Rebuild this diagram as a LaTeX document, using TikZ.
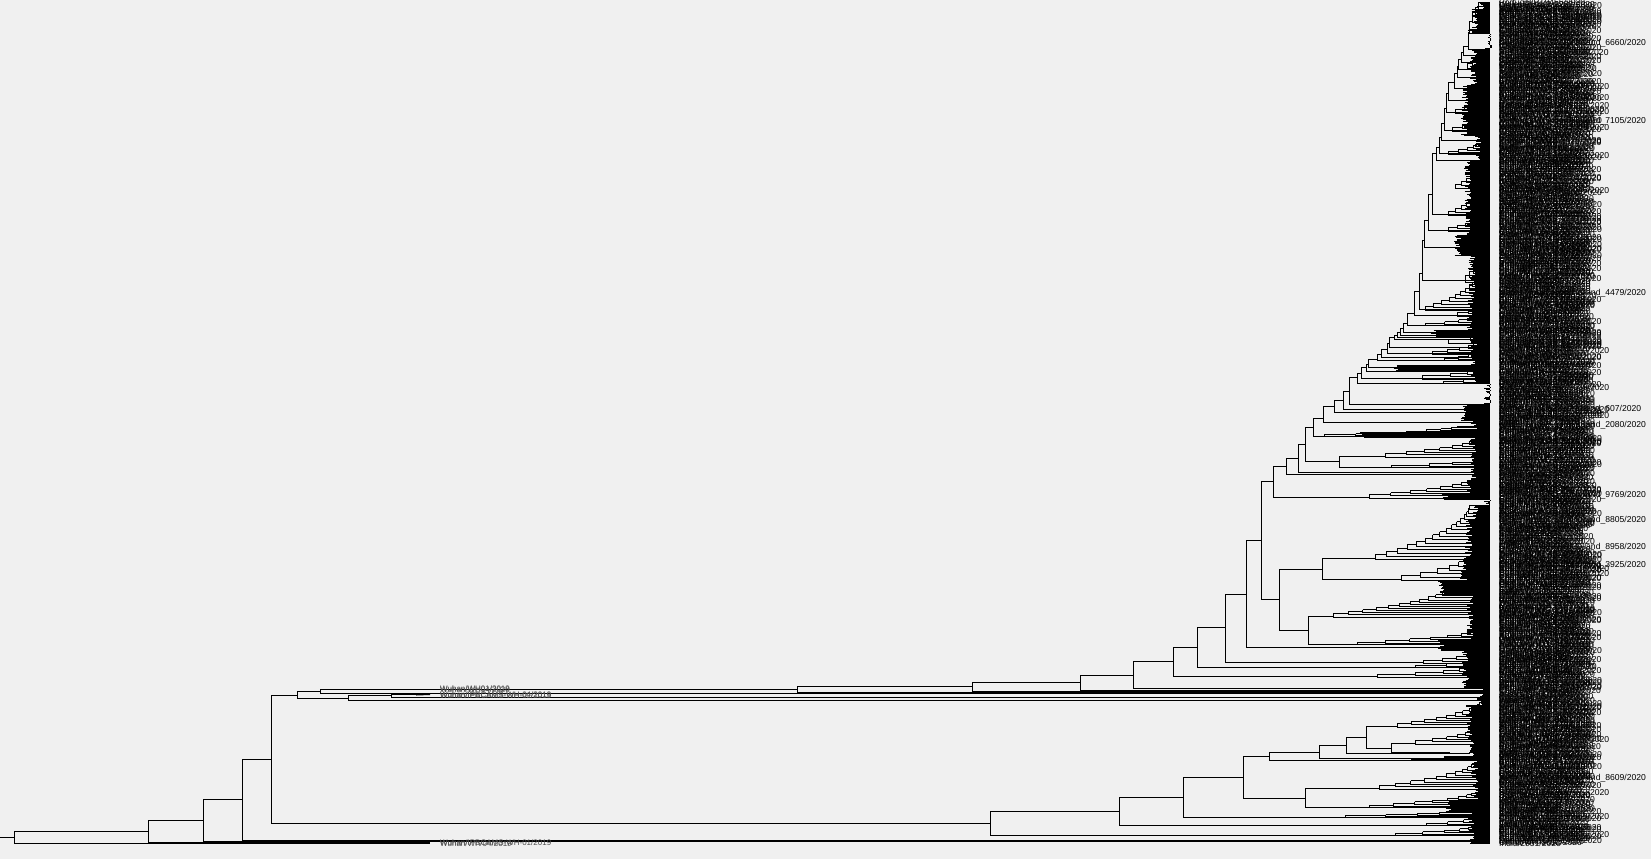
\documentclass[tikz,border=0pt]{standalone}
\usepackage{fontspec}
\setmainfont{Liberation Sans}
\newfontfamily\labf{Liberation Sans}
\definecolor{bgc}{RGB}{240,240,240}
\tikzset{
  br/.style={line width=1pt, black},
  lab/.style={anchor=west, inner sep=0pt, text=black, font=\labf\fontsize{8.6}{8.6}\selectfont},
  wlab/.style={anchor=west, inner sep=0pt, text=black!70, font=\labf\fontsize{8}{8}\selectfont},
}
\newcommand\ladder[5]{%
  \foreach \lk in {1,...,#5}{%
    \pgfmathsetmacro\lxa{#3-(#3-#1)*(1-(\lk-1)/#5)^2}%
    \pgfmathsetmacro\lxb{#3-(#3-#1)*(1-\lk/#5)^2}%
    \pgfmathsetmacro\lya{#2+(#4-#2)*(\lk-1)/#5}%
    \pgfmathsetmacro\lyb{#2+(#4-#2)*\lk/#5}%
    \pgfmathsetmacro\lyt{\lya+(#2-#4)/(2*#5)}%
    \draw[br] (\lxa,\lyb) -- (\lxa,\lyt) -- (1490,\lyt);
    \draw[br] (\lxa,\lyb) -- (\lxb,\lyb);
  }%
  \draw[br] (#3,#4) -- (1490,#4);
}
\begin{document}
\begin{tikzpicture}[x=1pt,y=-1pt]
\fill[bgc] (0,0) rectangle (1651,859);
\useasboundingbox (0,0) rectangle (1651,859);
\pgfmathsetseed{12}

% dense tips
\foreach \ya/\yb/\xl in {3/10/1479,10/30/1473,30/33/1470,33/50/1487,50/85/1472,85/135/1463,135/160/1476,160/235/1466,235/255/1456,255/300/1470,300/330/1468,330/337/1432,337/365/1472,365/370/1395,370/383/1472,383/404/1486,404/420/1462,420/432/1472,432/437/1362,437/480/1471,480/493/1467,493/499/1443,499/505/1486,505/520/1474,520/560/1467,560/580/1462,580/595/1440,595/640/1468,640/650/1440,650/688/1464,688/693/1480,693/705/1479,705/735/1468,735/756/1470,756/760/1443,760/800/1473,800/812/1447,812/843/1470}{%
  \foreach \yy in {\ya,...,\yb}{%
    \pgfmathsetmacro\xs{\xl-2+7*rnd}%
    \draw[br] (\xs,\yy) -- (1490,\yy);
  }%
}

% backbone nodes
\coordinate (R0) at (0,837);
\coordinate (R) at (14.5,837);
\coordinate (A) at (148.5,831);
\coordinate (B) at (203.6,820);
\coordinate (C) at (242,799);
\coordinate (D) at (271.3,759);
\coordinate (E) at (297.4,695);
\coordinate (G) at (348,698);
\coordinate (W) at (391,695);
\coordinate (P1) at (320,691);
\coordinate (P3) at (797,689);
\coordinate (P4) at (972,686);
\coordinate (P5) at (1080,682);
\coordinate (P6) at (1133,675);
\coordinate (P7) at (1173,661);
\coordinate (P8) at (1197,647);
\coordinate (P9) at (1225,627);
\coordinate (P10) at (1246,594);
\coordinate (P11) at (1261,540);
\coordinate (P12) at (1273,481);
\coordinate (P13) at (1286,466);
\coordinate (P14) at (1298,458);
\coordinate (P15) at (1305,444);
\coordinate (P16) at (1313,427);
\coordinate (P17) at (1323,418);
\coordinate (P18) at (1334,406);
\coordinate (P19) at (1343,400);
\coordinate (S0) at (1343,391);
\coordinate (Q1) at (1279,599);
\coordinate (Q2) at (1322,569);
\coordinate (Q3) at (1308,630);
\coordinate (Lj) at (1339,461);
\coordinate (L1) at (990,823);
\coordinate (L2) at (1119,811);
\coordinate (L3) at (1183,797);
\coordinate (L4) at (1243,777);
\coordinate (L5) at (1269,756);
\coordinate (L6) at (1305,798);
\coordinate (L7) at (1319,752);
\coordinate (L8) at (1346,745);
\coordinate (L9) at (1366,737);
\coordinate (L10) at (1391,748);
% ladder starts
\coordinate (La) at (1375,558);
\coordinate (Lb) at (1401,579);
\coordinate (Lc) at (1333,616);
\coordinate (Ld) at (1357,644);
\coordinate (Lf) at (1423,662);
\coordinate (Lg) at (1415,667);
\coordinate (Lh) at (1377,676);
\coordinate (Li) at (1369,497);
\coordinate (LjA) at (1385,456);
\coordinate (LjB) at (1391,467);
\coordinate (Lk) at (1324,436);
\coordinate (M1) at (1395,835);
\coordinate (M2) at (1426,825);
\coordinate (M3) at (1345,817);
\coordinate (M4) at (1411,760);
\coordinate (M5) at (1415,743);
\coordinate (M6) at (1397,726);
\coordinate (M7) at (1379,788);
\coordinate (M8) at (1369,807);
% tips
\coordinate (tR) at (430,843);
\coordinate (tA) at (430,842);
\coordinate (tB) at (1475,841);
\coordinate (tC) at (1480,840);
\coordinate (tG) at (1490,700);
\coordinate (tW1) at (430,694);
\coordinate (tW2) at (1490,697);
\coordinate (tP1) at (1490,693);
\coordinate (tP3) at (1490,692);
\coordinate (tP4) at (1490,691);
\coordinate (tP5) at (1490,690);
\coordinate (tP6) at (1490,688);
\coordinate (tP10) at (1490,647);
\coordinate (tP13) at (1490,474);
\coordinate (tP14) at (1490,472);
\coordinate (tP17) at (1490,422);
\coordinate (tP18) at (1490,412);
\coordinate (tP19) at (1490,409);
\coordinate (tL7) at (1490,758);
\coordinate (tL8) at (1470,753);
\coordinate (tL10) at (1450,752);

% edges
\draw[br] (R0) -- (R);
\draw[br] (R) |- (A);   \draw[br] (R) |- (tR);
\draw[br] (A) |- (B);   \draw[br] (A) |- (tA);
\draw[br] (B) |- (C);   \draw[br] (B) |- (tB);
\draw[br] (C) |- (D);   \draw[br] (C) |- (tC);
\draw[br] (D) |- (E);   \draw[br] (D) |- (L1);
\draw[br] (E) |- (P1);  \draw[br] (E) |- (G);
\draw[br] (G) |- (W);   \draw[br] (G) |- (tG);
\draw[br] (W) |- (tW1); \draw[br] (W) |- (tW2);
\draw[line width=2pt] (416,694.5) -- (tW1);
\draw[br] (P1) |- (P3); \draw[br] (P1) |- (tP1);
\draw[br] (P3) |- (P4); \draw[br] (P3) |- (tP3);
\draw[br] (P4) |- (P5); \draw[br] (P4) |- (tP4);
\draw[br] (P5) |- (P6); \draw[br] (P5) |- (tP5);
\draw[br] (P6) |- (P7); \draw[br] (P6) |- (tP6);
\draw[br] (P7) |- (P8); \draw[br] (P7) |- (Lh);
\draw[br] (P8) |- (P9); \draw[br] (P8) |- (Lg);
\draw[br] (P9) |- (P10); \draw[br] (P9) |- (Lf);
\draw[br] (P10) |- (P11); \draw[br] (P10) |- (tP10);
\draw[br] (P11) |- (P12); \draw[br] (P11) |- (Q1);
\draw[br] (Q1) |- (Q2); \draw[br] (Q1) |- (Q3);
\draw[br] (Q2) |- (La); \draw[br] (Q2) |- (Lb);
\draw[br] (Q3) |- (Lc); \draw[br] (Q3) |- (Ld);
\draw[br] (P12) |- (P13); \draw[br] (P12) |- (Li);
\draw[br] (P13) |- (P14); \draw[br] (P13) |- (tP13);
\draw[br] (P14) |- (P15); \draw[br] (P14) |- (tP14);
\draw[br] (P15) |- (P16); \draw[br] (P15) |- (Lj);
\draw[br] (Lj) |- (LjA); \draw[br] (Lj) |- (LjB);
\draw[br] (P16) |- (P17); \draw[br] (P16) |- (Lk);
\draw[br] (P17) |- (P18); \draw[br] (P17) |- (tP17);
\draw[br] (P18) |- (P19); \draw[br] (P18) |- (tP18);
\draw[br] (P19) -- (S0); \draw[br] (P19) |- (tP19);
% lower clade
\draw[br] (L1) |- (L2); \draw[br] (L1) |- (M1);
\draw[br] (L2) |- (L3); \draw[br] (L2) |- (M2);
\draw[br] (L3) |- (L4); \draw[br] (L3) |- (M3);
\draw[br] (L4) |- (L5); \draw[br] (L4) |- (L6);
\draw[br] (L5) |- (L7); \draw[br] (L5) |- (M4);
\draw[br] (L6) |- (M7); \draw[br] (L6) |- (M8);
\draw[br] (L7) |- (L8); \draw[br] (L7) |- (tL7);
\draw[br] (L8) |- (L9); \draw[br] (L8) |- (tL8);
\draw[br] (L9) |- (M6); \draw[br] (L9) |- (L10);
\draw[br] (L10) |- (M5); \draw[br] (L10) |- (tL10);

% upper staircase
\foreach \sx/\st/\sb [remember=\sx as \prx (initially 1343), remember=\st as \pry (initially 391)] in {1349/377/404,1357/373/383,1361/367/378,1366/364/371,1368/359/367,1377/354/360,1381/349/357,1387/343/353,1389/337/347,1394/335/339,1397/332/337,1400/328/335,1403/323/332,1407/313/325,1414/291/315,1419/273/309,1422/240/280,1424/220/247,1428/194/230,1432/153/214,1436/147/160,1439/137/153,1441/123/140,1444/108/130,1446/93/112,1448/82/100,1454/73/88,1457/67/77,1458/60/70,1461/53/63,1463/47/56,1468/33/50,1469/22/34,1472/13/23,1475/8/15,1478/3/10}{%
  \draw[br] (\prx,\pry) -- (\sx,\pry);
  \draw[br] (\sx,\st) -- (\sx,\sb) -- (1490,\sb);
}
\draw[br] (1478,3) -- (1490,3);

% ladders (comb-shaped sub-clades)
\foreach \ax/\ay/\bx/\by/\nn in {1375/558/1470/505/16,1401/579/1466/558/6,1333/616/1460/582/16,1357/644/1478/630/8,1423/662/1476/652/5,1415/667/1472/662/3,1377/676/1465/668/4,1369/497/1473/478/9,1385/456/1475/439/8,1391/467/1460/462/3,1324/436/1460/426/8,1395/835/1472/827/5,1426/825/1476/818/4,1345/817/1458/811/5,1411/760/1460/757/3,1415/743/1472/730/6,1397/726/1480/702/11,1379/788/1475/762/11,1369/807/1473/793/8,1425/309/1476/276/11,1457/315/1478/308/3,1425/325/1470/318/4,1448/342/1478/337/2,1432/353/1475/343/5,1444/360/1476/353/4,1422/378/1473/371/3,1443/383/1480/378/3,1448/153/1478/143/5,1455/187/1482/163/8,1448/214/1478/190/8,1448/230/1483/214/7,1465/280/1483/250/7,1452/130/1482/118/5,1455/112/1480/100/5,1467/67/1480/53/4}{%
  \ladder{\ax}{\ay}{\bx}{\by}{\nn}
}

% Wuhan labels
\node[wlab] (w1) at (440,688.5) {Wuhan/WH01/2019};
\node[wlab] (w2) at (440,689.5) {Wuhan/WH04/2020};
\node[wlab] (w3) at (440,695) {Wuhan/IPBCAMS-WH-04/2019};
\node[wlab] (w4) at (440,696) {Wuhan/IPBCAMS-WH-02/2019};
\node[wlab] (w5) at (440,842.5) {Wuhan/IPBCAMS-WH-01/2019};
\node[wlab] (w6) at (440,843.5) {Wuhan/WIV04/2019};

% tip labels
\foreach \i in {3,...,843}{%
  \pgfmathrandominteger{\ci}{0}{39}%
  \pgfmathtruncatemacro\cj{\ci<20 ? \ci : (\ci-20<18 ? \ci-20 : 0)}%
  \pgfmathrandominteger{\nm}{1}{9999}%
  \node[lab] at (1499,\i) {\ifcase\cj\relax England/CAMB-\nm\or USA/WA-UW\nm\or Wales/PHWC-\nm\or Scotland/EDB\nm\or Australia/VIC\nm\or Iceland/\nm\or Netherlands/\nm\or USA/CA\nm\or Belgium/ULG-\nm\or Spain/Madrid\nm\or India/\nm\or Denmark/ALAB-\nm\or China/WH-\nm\or Japan/TK-\nm\or Portugal/PT\nm\or Canada/ON-\nm\or England/20\nm\or Wales/PHWC-\nm\or Netherlands/NoordHolland\_\nm\else Bosnia/BanjaLuka\nm\fi/2020};
}
\end{tikzpicture}
\end{document}
